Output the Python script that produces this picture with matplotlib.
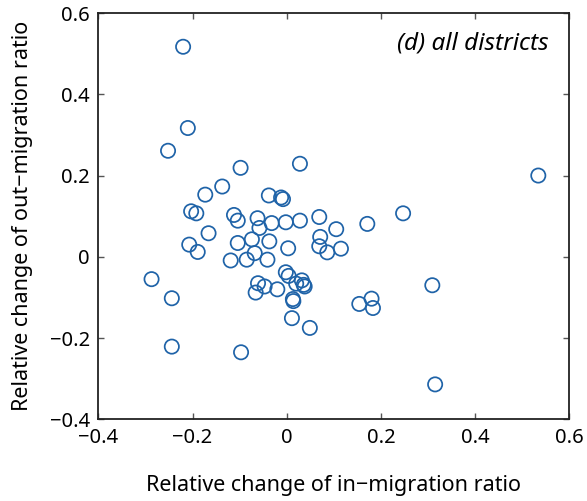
import matplotlib
matplotlib.use('Agg')
import matplotlib.pyplot as plt

# relative change of in-migration ratio (x) vs out-migration ratio (y), per district
in_change = [
    -0.220, -0.210, -0.252, -0.098, 0.028, -0.137, -0.173, -0.038, -0.012, -0.008,
    -0.203, -0.192, -0.112, -0.104, -0.062, -0.032, -0.002, 0.028, 0.069, -0.058,
    -0.166, -0.074, -0.037, -0.104, -0.207, -0.189, 0.003, 0.071, 0.069, 0.086,
    -0.068, -0.119, -0.085, -0.041, -0.287, -0.002, 0.004, 0.020, 0.032, 0.036,
    0.038, -0.061, -0.047, -0.066, -0.020, -0.244, 0.013, 0.014, 0.011, 0.049,
    -0.244, -0.097, 0.247, 0.171, 0.105, 0.115, 0.309, 0.154, 0.180, 0.183,
    0.315, 0.534,
]
out_change = [
    0.517, 0.317, 0.261, 0.219, 0.229, 0.173, 0.153, 0.151, 0.146, 0.142,
    0.112, 0.107, 0.103, 0.089, 0.095, 0.083, 0.085, 0.089, 0.098, 0.071,
    0.058, 0.043, 0.038, 0.034, 0.030, 0.012, 0.021, 0.049, 0.026, 0.011,
    0.009, -0.009, -0.007, -0.007, -0.055, -0.038, -0.047, -0.066, -0.058, -0.069,
    -0.073, -0.065, -0.073, -0.088, -0.080, -0.102, -0.104, -0.109, -0.151, -0.175,
    -0.221, -0.235, 0.107, 0.081, 0.068, 0.020, -0.070, -0.116, -0.103, -0.126,
    -0.314, 0.200,
]

x_ticks = [-0.4, -0.2, 0, 0.2, 0.4, 0.6]
y_ticks = [-0.4, -0.2, 0, 0.2, 0.4, 0.6]
tick_text = ['\u22120.4', '\u22120.2', '0', '0.2', '0.4', '0.6']

plt.rcParams['font.family'] = ['Noto Sans', 'DejaVu Sans']

fig = plt.figure(figsize=(5.87, 5.01), dpi=100)
ax = fig.add_axes([0.1675, 0.163, 0.8025, 0.811])

ax.scatter(in_change, out_change, s=105, facecolors='none',
           edgecolors='#1f63a8', linewidths=1.25, zorder=3)

ax.set_xlim(-0.4, 0.6)
ax.set_ylim(-0.4, 0.6)
ax.set_xticks(x_ticks)
ax.set_yticks(y_ticks)
ax.set_xticklabels(tick_text)
ax.set_yticklabels(tick_text)
ax.tick_params(direction='in', length=4, width=1, color='#555555',
               labelsize=14.5, pad=6, top=True, right=True)

for spine in ax.spines.values():
    spine.set_linewidth(1.3)
    spine.set_color('#222222')

ax.set_xlabel('Relative change of in\u2212migration ratio', fontsize=15.5, labelpad=20)
ax.set_ylabel('Relative change of out\u2212migration ratio', fontsize=15.5, labelpad=12)

ax.text(0.955, 0.925, '(d) all districts', transform=ax.transAxes,
        ha='right', va='center', fontsize=17.5, style='italic')

fig.savefig('out.png', dpi=100)
